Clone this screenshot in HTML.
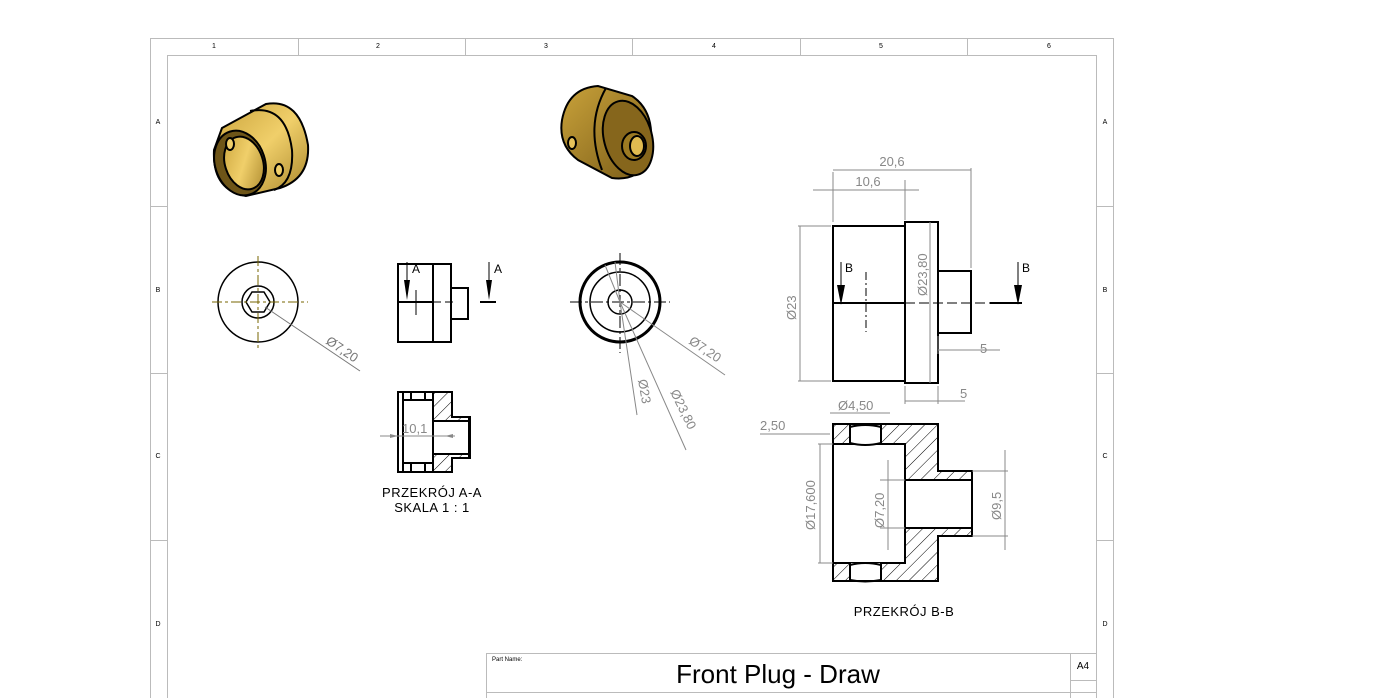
<!DOCTYPE html>
<html><head><meta charset="utf-8"><style>
html,body{margin:0;padding:0;background:#fff;}
svg{display:block;font-family:"Liberation Sans",sans-serif;}
</style></head><body>
<svg width="1398" height="698" viewBox="0 0 1398 698" xmlns="http://www.w3.org/2000/svg">
<defs>
<linearGradient id="g1" x1="0" y1="0" x2="1" y2="1"><stop offset="0" stop-color="#c9a23a"/><stop offset="0.5" stop-color="#f0cf6a"/><stop offset="1" stop-color="#a8852a"/></linearGradient>
<linearGradient id="g2" x1="0" y1="0" x2="1" y2="1"><stop offset="0" stop-color="#c9a23a"/><stop offset="1" stop-color="#7a5c18"/></linearGradient>
<pattern id="h" width="9" height="9" patternUnits="userSpaceOnUse" patternTransform="rotate(45)"><line x1="0" y1="0" x2="0" y2="9" stroke="#000" stroke-width="1"/></pattern>
</defs>
<g fill="none" stroke="#bbb" stroke-width="1">
<rect x="150.5" y="38.5" width="963" height="680"/>
<rect x="167.5" y="55.5" width="929" height="660"/>
<path d="M298.5 38v17M465.5 38v17M632.5 38v17M800.5 38v17M967.5 38v17"/>
<path d="M150 206.5h17M150 373.5h17M150 540.5h17M1096 206.5h17M1096 373.5h17M1096 540.5h17"/>
<rect x="486.5" y="653.5" width="610" height="60"/>
<path d="M486 692.5h610M1070.5 653v45M1070 680.5h26"/>
</g>
<g font-size="7" fill="#000" text-anchor="middle">
<text x="214" y="48">1</text><text x="378" y="48">2</text><text x="546" y="48">3</text><text x="714" y="48">4</text><text x="881" y="48">5</text><text x="1049" y="48">6</text>
<text x="158" y="124">A</text><text x="158" y="292">B</text><text x="158" y="458">C</text><text x="158" y="626">D</text>
<text x="1105" y="124">A</text><text x="1105" y="292">B</text><text x="1105" y="458">C</text><text x="1105" y="626">D</text>
</g>
<text x="492" y="661" font-size="6">Part Name:</text>
<text x="778" y="683" font-size="26" text-anchor="middle">Front Plug - Draw</text>
<text x="1083" y="669" font-size="10" text-anchor="middle">A4</text>

<!-- 3D left -->
<g stroke="#000" stroke-width="2">
<path d="M222 128 L266 104 Q300 98 308 145 Q310 178 280 188 L246 196 Q212 190 214 150 Z" fill="url(#g1)"/>
<path d="M250 111 Q286 104 292 150 Q294 183 274 190" fill="none"/>
<ellipse cx="240" cy="163" rx="25" ry="33" transform="rotate(-18 240 163)" fill="#6e5518"/>
<ellipse cx="244" cy="163" rx="19" ry="27" transform="rotate(-18 244 163)" fill="url(#g1)"/>
<ellipse cx="230" cy="144" rx="4" ry="6" fill="#f0cf6a"/>
<ellipse cx="279" cy="170" rx="4" ry="6" fill="#f0cf6a"/>
</g>
<!-- 3D right -->
<g stroke="#000" stroke-width="2">
<path d="M562 120 Q568 88 598 86 L632 96 Q656 112 650 150 Q644 182 612 178 L578 160 Q558 145 562 120Z" fill="url(#g2)"/>
<ellipse cx="628" cy="138" rx="24" ry="38" transform="rotate(-15 628 138)" fill="#86661c"/>
<path d="M606 88 Q585 125 602 170" fill="none"/>
<ellipse cx="634" cy="146" rx="12" ry="14" fill="#9c7a22"/>
<ellipse cx="637" cy="146" rx="7" ry="10" fill="#e0bb50"/>
<ellipse cx="572" cy="143" rx="4" ry="6" fill="#e6c25a"/>
</g>

<!-- left circle view -->
<g fill="none" stroke="#000" stroke-width="1.5">
<circle cx="258" cy="302" r="40"/><circle cx="258" cy="302" r="16"/>
<polygon points="270,302 264,312 252,312 246,302 252,292 264,292"/>
</g>
<path d="M212 302h96M258 256v95" stroke="#776600" stroke-width="1" stroke-dasharray="10,3,3,3" fill="none"/>
<path d="M265 307 L360 371" stroke="#777" stroke-width="1"/>
<text font-size="13" fill="#777" transform="translate(325 343) rotate(34)">Ø7,20</text>

<!-- side view A -->
<g fill="none" stroke="#000" stroke-width="2">
<rect x="398" y="264" width="35" height="78"/><rect x="433" y="264" width="18" height="78"/><rect x="451" y="288" width="17" height="31"/>
<path d="M398 302h35M480 302h16"/>
</g>
<path d="M433 302h20" stroke="#000" stroke-dasharray="8,4"/>
<path d="M416 290v25" stroke="#000"/>
<path d="M407 262v28M489 262v28" stroke="#000" stroke-width="1"/>
<path d="M404 280h6l-3 20z M486 280h6l-3 20z" fill="#000"/>
<text x="412" y="273" font-size="12">A</text><text x="494" y="273" font-size="12">A</text>

<!-- section A-A -->
<g stroke="#000" stroke-width="2">
<path d="M433 392h19v25h18v41h-18v14h-19z" fill="url(#h)"/>
<rect x="434" y="421" width="35" height="33" fill="#fff" stroke="none"/>
<path d="M433 421h36M433 454h36M469 417v41" fill="none"/>
<rect x="398" y="392" width="35" height="80" fill="#fff"/>
<path d="M403 392v80M403 400h30M403 463h30M411 392v8M425 392v8M411 463v9M425 463v9" fill="none"/>
</g>
<path d="M380 436h75" stroke="#888" stroke-width="1"/>
<path d="M390 434l8 2-8 2z M453 434l-8 2 8 2z" fill="#888"/>
<text x="402" y="433" font-size="13" fill="#888">10,1</text>
<text x="432" y="497" font-size="13" text-anchor="middle" letter-spacing="0.5">PRZEKRÓJ A-A</text>
<text x="432" y="512" font-size="13" text-anchor="middle" letter-spacing="0.5">SKALA 1 : 1</text>

<!-- right circle view -->
<g fill="none" stroke="#000">
<circle cx="620" cy="302" r="40" stroke-width="3"/><circle cx="620" cy="302" r="30" stroke-width="1.5"/><circle cx="620" cy="302" r="12" stroke-width="1.5"/>
<path d="M570 302h100M620 253v100" stroke-dasharray="12,3,3,3" stroke-width="1"/>
</g>
<g stroke="#888" stroke-width="1" fill="none">
<path d="M620 302L725 375M620 302L637 415M620 302L686 450M605 265L620 302M615 262L620 302"/>
</g>
<text font-size="13" fill="#888" transform="translate(688 343) rotate(34)">Ø7,20</text>
<text font-size="13" fill="#888" transform="translate(638 380) rotate(80)">Ø23</text>
<text font-size="13" fill="#888" transform="translate(670 392) rotate(64)">Ø23,80</text>

<!-- large view -->
<g fill="none" stroke="#000" stroke-width="2">
<rect x="833" y="226" width="72" height="155"/><rect x="905" y="222" width="33" height="161"/><rect x="938" y="271" width="33" height="62"/>
<path d="M833 303h72M990 303h32"/>
</g>
<path d="M905 303h85" stroke="#000" stroke-dasharray="10,4"/>
<path d="M866 272v60" stroke="#000" stroke-dasharray="8,3,2,3"/>
<path d="M841 262v30M1018 262v30" stroke="#000"/>
<path d="M837 285h8l-4 20z M1014 285h8l-4 20z" fill="#000"/>
<text x="845" y="272" font-size="12">B</text><text x="1022" y="272" font-size="12">B</text>
<g stroke="#888" stroke-width="1" fill="none">
<path d="M833 222v-50M971 268v-100M905 220v-40M833 170h138M813 190h106M798 226h33M798 381h33M800 226v155M930 222v161M938 386v18M905 386v18M905 401h60M938 336v18M938 350h62"/>
</g>
<text x="892" y="166" font-size="13" fill="#888" text-anchor="middle">20,6</text>
<text x="868" y="186" font-size="13" fill="#888" text-anchor="middle">10,6</text>
<text font-size="13" fill="#888" transform="translate(796 320) rotate(-90)">Ø23</text>
<text font-size="13" fill="#888" transform="translate(927 296) rotate(-90)">Ø23,80</text>
<text x="980" y="353" font-size="13" fill="#888">5</text>
<text x="960" y="398" font-size="13" fill="#888">5</text>

<!-- section B-B -->
<g stroke="#000" stroke-width="2">
<path d="M833 424h105v47h34v65h-34v45h-105z" fill="url(#h)"/>
<rect x="905" y="480" width="67" height="48" fill="#fff" stroke="none"/>
<rect x="833" y="444" width="72" height="119" fill="#fff"/>
<rect x="850" y="424" width="31" height="20" fill="#fff" stroke="none"/>
<rect x="850" y="563" width="31" height="18" fill="#fff" stroke="none"/>
<path d="M833 424h105M833 581h105M905 480h67M905 528h67M972 471v65M850 424v20M881 424v20M850 563v18M881 563v18M850 427q15 -4 31 0M850 443q15 4 31 0M850 565q15 -4 31 0M850 580q15 3 31 0" fill="none"/>
</g>
<g stroke="#888" stroke-width="1" fill="none">
<path d="M830 413h60M760 434h70M818 444h15M818 563h15M820 444v119M888 460v90M880 480h25M880 528h25M972 471h36M972 536h36M1005 450v100"/>
</g>
<text x="838" y="410" font-size="13" fill="#888">Ø4,50</text>
<text x="760" y="430" font-size="13" fill="#888">2,50</text>
<text font-size="13" fill="#888" transform="translate(815 530) rotate(-90)">Ø17,600</text>
<text font-size="13" fill="#888" transform="translate(884 528) rotate(-90)">Ø7,20</text>
<text font-size="13" fill="#888" transform="translate(1001 520) rotate(-90)">Ø9,5</text>
<text x="904" y="616" font-size="13" text-anchor="middle" letter-spacing="0.5">PRZEKRÓJ B-B</text>
</svg>
</body></html>
